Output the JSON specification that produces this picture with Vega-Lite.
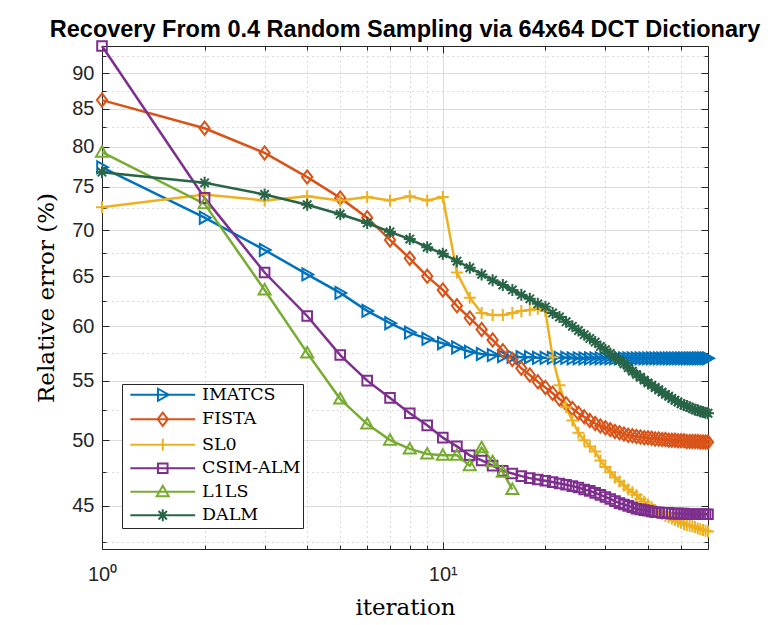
{
"$schema": "https://vega.github.io/schema/vega-lite/v6.json",
"width": 606, "height": 503,
"autosize": "none",
"padding": {"left": 102, "top": 46, "right": 74, "bottom": 76},
"background": "white",
"config": {"view": {"stroke": null},
  "legend": {"orient": "none", "legendX": 20, "legendY": 338, "fillColor": "white", "strokeColor": "#262626", "padding": 2,
    "labelFont": "DejaVu Serif", "labelFontSize": 17.5, "labelColor": "#000000", "labelLimit": 300,
    "symbolSize": 144, "symbolStrokeWidth": 2, "symbolOpacity": 1, "symbolOffset": 30, "labelOffset": 30.5, "rowPadding": 3.5}},
"title": {"text": "Recovery From 0.4 Random Sampling via 64x64 DCT Dictionary", "font": "Liberation Sans", "fontSize": 23.5, "fontWeight": "bold", "color": "#000000", "anchor": "middle", "baseline": "alphabetic", "offset": -23},
"datasets": {"d": [
{"method":"IMATCS","iteration":1,"error":77.4},{"method":"IMATCS","iteration":2,"error":71.4},{"method":"IMATCS","iteration":3,"error":67.8},{"method":"IMATCS","iteration":4,"error":65.2},{"method":"IMATCS","iteration":5,"error":63.3},{"method":"IMATCS","iteration":6,"error":61.5},{"method":"IMATCS","iteration":7,"error":60.3},{"method":"IMATCS","iteration":8,"error":59.4},{"method":"IMATCS","iteration":9,"error":58.8},{"method":"IMATCS","iteration":10,"error":58.4},
{"method":"IMATCS","iteration":11,"error":58.0},{"method":"IMATCS","iteration":12,"error":57.6},{"method":"IMATCS","iteration":13,"error":57.4},{"method":"IMATCS","iteration":14,"error":57.3},{"method":"IMATCS","iteration":15,"error":57.2},{"method":"IMATCS","iteration":16,"error":57.15},{"method":"IMATCS","iteration":17,"error":57.1},{"method":"IMATCS","iteration":18,"error":57.1},{"method":"IMATCS","iteration":19,"error":57.05},{"method":"IMATCS","iteration":20,"error":57.05},
{"method":"IMATCS","iteration":21,"error":57.05},{"method":"IMATCS","iteration":22,"error":57.05},{"method":"IMATCS","iteration":23,"error":57.05},{"method":"IMATCS","iteration":24,"error":57.0},{"method":"IMATCS","iteration":25,"error":57.0},{"method":"IMATCS","iteration":26,"error":57.0},{"method":"IMATCS","iteration":27,"error":57.0},{"method":"IMATCS","iteration":28,"error":57.0},{"method":"IMATCS","iteration":29,"error":57.0},{"method":"IMATCS","iteration":30,"error":57.0},
{"method":"IMATCS","iteration":31,"error":57.0},{"method":"IMATCS","iteration":32,"error":57.0},{"method":"IMATCS","iteration":33,"error":57.0},{"method":"IMATCS","iteration":34,"error":57.0},{"method":"IMATCS","iteration":35,"error":57.0},{"method":"IMATCS","iteration":36,"error":57.0},{"method":"IMATCS","iteration":37,"error":57.0},{"method":"IMATCS","iteration":38,"error":57.0},{"method":"IMATCS","iteration":39,"error":57.0},{"method":"IMATCS","iteration":40,"error":57.0},
{"method":"IMATCS","iteration":41,"error":57.0},{"method":"IMATCS","iteration":42,"error":57.0},{"method":"IMATCS","iteration":43,"error":57.0},{"method":"IMATCS","iteration":44,"error":57.0},{"method":"IMATCS","iteration":45,"error":57.0},{"method":"IMATCS","iteration":46,"error":57.0},{"method":"IMATCS","iteration":47,"error":57.0},{"method":"IMATCS","iteration":48,"error":57.0},{"method":"IMATCS","iteration":49,"error":57.0},{"method":"IMATCS","iteration":50,"error":57.0},
{"method":"IMATCS","iteration":51,"error":57.0},{"method":"IMATCS","iteration":52,"error":57.0},{"method":"IMATCS","iteration":53,"error":57.0},{"method":"IMATCS","iteration":54,"error":57.0},{"method":"IMATCS","iteration":55,"error":57.0},{"method":"IMATCS","iteration":56,"error":57.0},{"method":"IMATCS","iteration":57,"error":57.0},{"method":"IMATCS","iteration":58,"error":57.0},{"method":"IMATCS","iteration":59,"error":57.0},{"method":"IMATCS","iteration":60,"error":57.0},
{"method":"FISTA","iteration":1,"error":86.2},{"method":"FISTA","iteration":2,"error":82.4},{"method":"FISTA","iteration":3,"error":79.2},{"method":"FISTA","iteration":4,"error":76.2},{"method":"FISTA","iteration":5,"error":73.7},{"method":"FISTA","iteration":6,"error":71.4},{"method":"FISTA","iteration":7,"error":68.9},{"method":"FISTA","iteration":8,"error":66.9},{"method":"FISTA","iteration":9,"error":65.0},{"method":"FISTA","iteration":10,"error":63.6},
{"method":"FISTA","iteration":11,"error":62.0},{"method":"FISTA","iteration":12,"error":60.8},{"method":"FISTA","iteration":13,"error":59.7},{"method":"FISTA","iteration":14,"error":58.7},{"method":"FISTA","iteration":15,"error":57.7},{"method":"FISTA","iteration":16,"error":56.9},{"method":"FISTA","iteration":17,"error":56.1},{"method":"FISTA","iteration":18,"error":55.5},{"method":"FISTA","iteration":19,"error":54.9},{"method":"FISTA","iteration":20,"error":54.4},
{"method":"FISTA","iteration":21,"error":53.9},{"method":"FISTA","iteration":22,"error":53.4},{"method":"FISTA","iteration":23,"error":53.0},{"method":"FISTA","iteration":24,"error":52.6},{"method":"FISTA","iteration":25,"error":52.2},{"method":"FISTA","iteration":26,"error":51.9},{"method":"FISTA","iteration":27,"error":51.6},{"method":"FISTA","iteration":28,"error":51.35},{"method":"FISTA","iteration":29,"error":51.15},{"method":"FISTA","iteration":30,"error":51.0},
{"method":"FISTA","iteration":31,"error":50.85},{"method":"FISTA","iteration":32,"error":50.7},{"method":"FISTA","iteration":33,"error":50.6},{"method":"FISTA","iteration":34,"error":50.5},{"method":"FISTA","iteration":35,"error":50.4},{"method":"FISTA","iteration":36,"error":50.35},{"method":"FISTA","iteration":37,"error":50.3},{"method":"FISTA","iteration":38,"error":50.25},{"method":"FISTA","iteration":39,"error":50.2},{"method":"FISTA","iteration":40,"error":50.2},
{"method":"FISTA","iteration":41,"error":50.15},{"method":"FISTA","iteration":42,"error":50.1},{"method":"FISTA","iteration":43,"error":50.1},{"method":"FISTA","iteration":44,"error":50.05},{"method":"FISTA","iteration":45,"error":50.05},{"method":"FISTA","iteration":46,"error":50.0},{"method":"FISTA","iteration":47,"error":50.0},{"method":"FISTA","iteration":48,"error":50.0},{"method":"FISTA","iteration":49,"error":49.95},{"method":"FISTA","iteration":50,"error":49.95},
{"method":"FISTA","iteration":51,"error":49.95},{"method":"FISTA","iteration":52,"error":49.9},{"method":"FISTA","iteration":53,"error":49.9},{"method":"FISTA","iteration":54,"error":49.9},{"method":"FISTA","iteration":55,"error":49.9},{"method":"FISTA","iteration":56,"error":49.9},{"method":"FISTA","iteration":57,"error":49.85},{"method":"FISTA","iteration":58,"error":49.85},{"method":"FISTA","iteration":59,"error":49.85},{"method":"FISTA","iteration":60,"error":49.85},
{"method":"SL0","iteration":1,"error":72.6},{"method":"SL0","iteration":2,"error":74.1},{"method":"SL0","iteration":3,"error":73.4},{"method":"SL0","iteration":4,"error":73.9},{"method":"SL0","iteration":5,"error":73.4},{"method":"SL0","iteration":6,"error":73.8},{"method":"SL0","iteration":7,"error":73.4},{"method":"SL0","iteration":8,"error":73.9},{"method":"SL0","iteration":9,"error":73.4},{"method":"SL0","iteration":10,"error":73.8},
{"method":"SL0","iteration":11,"error":65.4},{"method":"SL0","iteration":12,"error":62.8},{"method":"SL0","iteration":13,"error":61.3},{"method":"SL0","iteration":14,"error":61.1},{"method":"SL0","iteration":15,"error":61.1},{"method":"SL0","iteration":16,"error":61.3},{"method":"SL0","iteration":17,"error":61.5},{"method":"SL0","iteration":18,"error":61.6},{"method":"SL0","iteration":19,"error":61.7},{"method":"SL0","iteration":20,"error":61.5},
{"method":"SL0","iteration":21,"error":57.1},{"method":"SL0","iteration":22,"error":54.6},{"method":"SL0","iteration":23,"error":52.7},{"method":"SL0","iteration":24,"error":51.6},{"method":"SL0","iteration":25,"error":50.6},{"method":"SL0","iteration":26,"error":50.0},{"method":"SL0","iteration":27,"error":49.5},{"method":"SL0","iteration":28,"error":49.1},{"method":"SL0","iteration":29,"error":48.4},{"method":"SL0","iteration":30,"error":47.9},
{"method":"SL0","iteration":31,"error":47.5},{"method":"SL0","iteration":32,"error":47.1},{"method":"SL0","iteration":33,"error":46.8},{"method":"SL0","iteration":34,"error":46.5},{"method":"SL0","iteration":35,"error":46.2},{"method":"SL0","iteration":36,"error":46.0},{"method":"SL0","iteration":37,"error":45.8},{"method":"SL0","iteration":38,"error":45.5},{"method":"SL0","iteration":39,"error":45.3},{"method":"SL0","iteration":40,"error":45.1},
{"method":"SL0","iteration":41,"error":44.9},{"method":"SL0","iteration":42,"error":44.7},{"method":"SL0","iteration":43,"error":44.5},{"method":"SL0","iteration":44,"error":44.4},{"method":"SL0","iteration":45,"error":44.3},{"method":"SL0","iteration":46,"error":44.2},{"method":"SL0","iteration":47,"error":44.1},{"method":"SL0","iteration":48,"error":44.0},{"method":"SL0","iteration":49,"error":43.9},{"method":"SL0","iteration":50,"error":43.8},
{"method":"SL0","iteration":51,"error":43.7},{"method":"SL0","iteration":52,"error":43.65},{"method":"SL0","iteration":53,"error":43.6},{"method":"SL0","iteration":54,"error":43.55},{"method":"SL0","iteration":55,"error":43.5},{"method":"SL0","iteration":56,"error":43.4},{"method":"SL0","iteration":57,"error":43.35},{"method":"SL0","iteration":58,"error":43.3},{"method":"SL0","iteration":59,"error":43.25},{"method":"SL0","iteration":60,"error":43.2},
{"method":"CSIM-ALM","iteration":1,"error":94.0},{"method":"CSIM-ALM","iteration":2,"error":73.7},{"method":"CSIM-ALM","iteration":3,"error":65.4},{"method":"CSIM-ALM","iteration":4,"error":61.0},{"method":"CSIM-ALM","iteration":5,"error":57.3},{"method":"CSIM-ALM","iteration":6,"error":55.0},{"method":"CSIM-ALM","iteration":7,"error":53.5},{"method":"CSIM-ALM","iteration":8,"error":52.2},{"method":"CSIM-ALM","iteration":9,"error":51.2},{"method":"CSIM-ALM","iteration":10,"error":50.2},
{"method":"CSIM-ALM","iteration":11,"error":49.5},{"method":"CSIM-ALM","iteration":12,"error":48.8},{"method":"CSIM-ALM","iteration":13,"error":48.4},{"method":"CSIM-ALM","iteration":14,"error":48.0},{"method":"CSIM-ALM","iteration":15,"error":47.6},{"method":"CSIM-ALM","iteration":16,"error":47.4},{"method":"CSIM-ALM","iteration":17,"error":47.2},{"method":"CSIM-ALM","iteration":18,"error":47.05},{"method":"CSIM-ALM","iteration":19,"error":46.95},{"method":"CSIM-ALM","iteration":20,"error":46.85},
{"method":"CSIM-ALM","iteration":21,"error":46.75},{"method":"CSIM-ALM","iteration":22,"error":46.65},{"method":"CSIM-ALM","iteration":23,"error":46.55},{"method":"CSIM-ALM","iteration":24,"error":46.45},{"method":"CSIM-ALM","iteration":25,"error":46.35},{"method":"CSIM-ALM","iteration":26,"error":46.2},{"method":"CSIM-ALM","iteration":27,"error":46.1},{"method":"CSIM-ALM","iteration":28,"error":45.95},{"method":"CSIM-ALM","iteration":29,"error":45.8},{"method":"CSIM-ALM","iteration":30,"error":45.65},
{"method":"CSIM-ALM","iteration":31,"error":45.5},{"method":"CSIM-ALM","iteration":32,"error":45.35},{"method":"CSIM-ALM","iteration":33,"error":45.2},{"method":"CSIM-ALM","iteration":34,"error":45.1},{"method":"CSIM-ALM","iteration":35,"error":45.0},{"method":"CSIM-ALM","iteration":36,"error":44.9},{"method":"CSIM-ALM","iteration":37,"error":44.8},{"method":"CSIM-ALM","iteration":38,"error":44.75},{"method":"CSIM-ALM","iteration":39,"error":44.7},{"method":"CSIM-ALM","iteration":40,"error":44.65},
{"method":"CSIM-ALM","iteration":41,"error":44.6},{"method":"CSIM-ALM","iteration":42,"error":44.55},{"method":"CSIM-ALM","iteration":43,"error":44.55},{"method":"CSIM-ALM","iteration":44,"error":44.5},{"method":"CSIM-ALM","iteration":45,"error":44.5},{"method":"CSIM-ALM","iteration":46,"error":44.5},{"method":"CSIM-ALM","iteration":47,"error":44.45},{"method":"CSIM-ALM","iteration":48,"error":44.45},{"method":"CSIM-ALM","iteration":49,"error":44.45},{"method":"CSIM-ALM","iteration":50,"error":44.45},
{"method":"CSIM-ALM","iteration":51,"error":44.45},{"method":"CSIM-ALM","iteration":52,"error":44.4},{"method":"CSIM-ALM","iteration":53,"error":44.4},{"method":"CSIM-ALM","iteration":54,"error":44.4},{"method":"CSIM-ALM","iteration":55,"error":44.4},{"method":"CSIM-ALM","iteration":56,"error":44.4},{"method":"CSIM-ALM","iteration":57,"error":44.4},{"method":"CSIM-ALM","iteration":58,"error":44.4},{"method":"CSIM-ALM","iteration":59,"error":44.4},{"method":"CSIM-ALM","iteration":60,"error":44.4},
{"method":"L1LS","iteration":1,"error":79.3},{"method":"L1LS","iteration":2,"error":73.0},{"method":"L1LS","iteration":3,"error":63.6},{"method":"L1LS","iteration":4,"error":57.5},{"method":"L1LS","iteration":5,"error":53.4},{"method":"L1LS","iteration":6,"error":51.3},{"method":"L1LS","iteration":7,"error":50.0},{"method":"L1LS","iteration":8,"error":49.3},{"method":"L1LS","iteration":9,"error":48.9},{"method":"L1LS","iteration":10,"error":48.8},
{"method":"L1LS","iteration":11,"error":48.8},{"method":"L1LS","iteration":12,"error":48.0},{"method":"L1LS","iteration":13,"error":49.4},{"method":"L1LS","iteration":14,"error":48.3},{"method":"L1LS","iteration":15,"error":47.5},{"method":"L1LS","iteration":16,"error":46.2},
{"method":"DALM","iteration":1,"error":76.8},{"method":"DALM","iteration":2,"error":75.5},{"method":"DALM","iteration":3,"error":74.1},{"method":"DALM","iteration":4,"error":72.9},{"method":"DALM","iteration":5,"error":71.8},{"method":"DALM","iteration":6,"error":70.8},{"method":"DALM","iteration":7,"error":69.8},{"method":"DALM","iteration":8,"error":69.0},{"method":"DALM","iteration":9,"error":68.1},{"method":"DALM","iteration":10,"error":67.4},
{"method":"DALM","iteration":11,"error":66.6},{"method":"DALM","iteration":12,"error":65.9},{"method":"DALM","iteration":13,"error":65.2},{"method":"DALM","iteration":14,"error":64.6},{"method":"DALM","iteration":15,"error":64.1},{"method":"DALM","iteration":16,"error":63.6},{"method":"DALM","iteration":17,"error":63.1},{"method":"DALM","iteration":18,"error":62.7},{"method":"DALM","iteration":19,"error":62.2},{"method":"DALM","iteration":20,"error":61.9},
{"method":"DALM","iteration":21,"error":61.3},{"method":"DALM","iteration":22,"error":60.9},{"method":"DALM","iteration":23,"error":60.45},{"method":"DALM","iteration":24,"error":60.0},{"method":"DALM","iteration":25,"error":59.6},{"method":"DALM","iteration":26,"error":59.2},{"method":"DALM","iteration":27,"error":58.85},{"method":"DALM","iteration":28,"error":58.5},{"method":"DALM","iteration":29,"error":58.1},{"method":"DALM","iteration":30,"error":57.8},
{"method":"DALM","iteration":31,"error":57.45},{"method":"DALM","iteration":32,"error":57.1},{"method":"DALM","iteration":33,"error":56.8},{"method":"DALM","iteration":34,"error":56.5},{"method":"DALM","iteration":35,"error":56.15},{"method":"DALM","iteration":36,"error":55.85},{"method":"DALM","iteration":37,"error":55.55},{"method":"DALM","iteration":38,"error":55.3},{"method":"DALM","iteration":39,"error":55.05},{"method":"DALM","iteration":40,"error":54.8},
{"method":"DALM","iteration":41,"error":54.6},{"method":"DALM","iteration":42,"error":54.4},{"method":"DALM","iteration":43,"error":54.2},{"method":"DALM","iteration":44,"error":54.0},{"method":"DALM","iteration":45,"error":53.8},{"method":"DALM","iteration":46,"error":53.65},{"method":"DALM","iteration":47,"error":53.45},{"method":"DALM","iteration":48,"error":53.3},{"method":"DALM","iteration":49,"error":53.15},{"method":"DALM","iteration":50,"error":53.0},
{"method":"DALM","iteration":51,"error":52.9},{"method":"DALM","iteration":52,"error":52.8},{"method":"DALM","iteration":53,"error":52.7},{"method":"DALM","iteration":54,"error":52.6},{"method":"DALM","iteration":55,"error":52.5},{"method":"DALM","iteration":56,"error":52.45},{"method":"DALM","iteration":57,"error":52.35},{"method":"DALM","iteration":58,"error":52.3},{"method":"DALM","iteration":59,"error":52.25},{"method":"DALM","iteration":60,"error":52.2}
]},
"data": {"name": "d"},
"layer": [
  {"mark": {"type": "line", "strokeWidth": 2.5},
   "encoding": {
     "x": {"field": "iteration", "type": "quantitative",
       "scale": {"type": "log", "domain": [1, 60], "nice": false},
       "axis": {"orient": "bottom", "values": [1, 10],
         "title": "iteration", "titleFont": "DejaVu Serif", "titleFontSize": 23, "titleFontWeight": "normal", "titleColor": "#000000", "titleBaseline": "alphabetic", "titleY": 65,
         "labelExpr": "datum.value == 1 ? '10⁰' : '10¹'",
         "labelFont": "Liberation Sans", "labelFontSize": 20, "labelColor": "#262626", "labelBaseline": "alphabetic", "labelPadding": 38, "labelOverlap": false, "labelFlush": false,
         "domain": true, "domainColor": "#262626", "domainWidth": 1,
         "ticks": true, "tickColor": "#262626", "tickWidth": 1, "tickSize": -7,
         "grid": true, "gridColor": "#dcdcdc", "gridWidth": 1}},
     "y": {"field": "error", "type": "quantitative",
       "scale": {"type": "log", "domain": [42, 94], "nice": false, "zero": false},
       "axis": {"orient": "left", "values": [45, 50, 55, 60, 65, 70, 75, 80, 85, 90],
         "title": "Relative error (%)", "titleFont": "DejaVu Serif", "titleFontSize": 23, "titleFontWeight": "normal", "titleColor": "#000000", "titleBaseline": "alphabetic", "titleAngle": 270, "titleX": -49, "titleY": 251.5, "titleAlign": "center",
         "format": "d",
         "labelFont": "Liberation Sans", "labelFontSize": 20, "labelColor": "#262626", "labelPadding": 15, "labelOverlap": false, "labelFlush": false,
         "domain": true, "domainColor": "#262626", "domainWidth": 1,
         "ticks": true, "tickColor": "#262626", "tickWidth": 1, "tickSize": -7,
         "grid": true, "gridColor": "#dcdcdc", "gridWidth": 1}},
     "color": {"field": "method", "type": "nominal",
       "scale": {"domain": ["IMATCS","FISTA","SL0","CSIM-ALM","L1LS","DALM"], "range": ["#0072BD","#D95319","#EDB120","#7E2F8E","#77AC30","#286446"]},
       "legend": null}
   }},
  {"mark": {"type": "point", "filled": false, "strokeWidth": 2, "size": 144, "opacity": 1},
   "encoding": {
     "x": {"field": "iteration", "type": "quantitative",
       "scale": {"type": "log", "domain": [1, 60], "nice": false},
       "axis": {"orient": "bottom", "values": [2,3,4,5,6,7,8,9,20,30,40,50,60], "title": null, "labels": false,
         "domain": false, "ticks": true, "tickColor": "#262626", "tickWidth": 1, "tickSize": -4,
         "grid": true, "gridColor": "#b4b4b4", "gridDash": [1, 4], "gridWidth": 1}},
     "y": {"field": "error", "type": "quantitative",
       "scale": {"type": "log", "domain": [42, 94], "nice": false, "zero": false},
       "axis": {"orient": "left", "values": [42.5,47.5,52.5,57.5,62.5,67.5,72.5,77.5,82.5,87.5,92.5], "title": null, "labels": false,
         "domain": false, "ticks": true, "tickColor": "#262626", "tickWidth": 1, "tickSize": -4,
         "grid": true, "gridColor": "#b4b4b4", "gridDash": [1, 4], "gridWidth": 1}},
     "color": {"field": "method", "type": "nominal",
       "scale": {"domain": ["IMATCS","FISTA","SL0","CSIM-ALM","L1LS","DALM"], "range": ["#0072BD","#D95319","#EDB120","#7E2F8E","#77AC30","#286446"]},
       "legend": null},
     "shape": {"field": "method", "type": "nominal",
       "scale": {"domain": ["IMATCS","FISTA","SL0","CSIM-ALM","L1LS","DALM"],
         "range": ["M-0.8,-1L1,0L-0.8,1Z", "M0,-1.1L0.85,0L0,1.1L-0.85,0Z", "M-1,0L1,0M0,-1L0,1", "M-0.8,-0.8L0.8,-0.8L0.8,0.8L-0.8,0.8Z", "M0,-1L1,0.75L-1,0.75Z", "M-1,0L1,0M0,-1L0,1M-0.7,-0.7L0.7,0.7M-0.7,0.7L0.7,-0.7"]},
       "legend": null}
   }},
  {"mark": {"type": "point", "filled": false, "strokeWidth": 2, "size": 144, "opacity": 0},
   "encoding": {
     "x": {"field": "iteration", "type": "quantitative",
       "scale": {"type": "log", "domain": [1, 60], "nice": false},
       "axis": {"orient": "top", "values": [1, 10], "title": null, "labels": false, "grid": false,
         "domain": true, "domainColor": "#262626", "domainWidth": 1, "ticks": true, "tickColor": "#262626", "tickWidth": 1, "tickSize": -7}},
     "y": {"field": "error", "type": "quantitative",
       "scale": {"type": "log", "domain": [42, 94], "nice": false, "zero": false},
       "axis": {"orient": "right", "values": [45, 50, 55, 60, 65, 70, 75, 80, 85, 90], "title": null, "labels": false, "grid": false,
         "domain": true, "domainColor": "#262626", "domainWidth": 1, "ticks": true, "tickColor": "#262626", "tickWidth": 1, "tickSize": -7}},
     "color": {"field": "method", "type": "nominal",
       "scale": {"domain": ["IMATCS","FISTA","SL0","CSIM-ALM","L1LS","DALM"], "range": ["#0072BD","#D95319","#EDB120","#7E2F8E","#77AC30","#286446"]},
       "legend": {"title": null}},
     "shape": {"field": "method", "type": "nominal",
       "scale": {"domain": ["IMATCS","FISTA","SL0","CSIM-ALM","L1LS","DALM"],
         "range": ["M-5.4,0L5.4,0M-0.8,-1L1,0L-0.8,1Z", "M-5.4,0L5.4,0M0,-1.1L0.85,0L0,1.1L-0.85,0Z", "M-5.4,0L5.4,0M0,-1L0,1", "M-5.4,0L5.4,0M-0.8,-0.8L0.8,-0.8L0.8,0.8L-0.8,0.8Z", "M-5.4,0L5.4,0M0,-1L1,0.75L-1,0.75Z", "M-5.4,0L5.4,0M0,-1L0,1M-0.7,-0.7L0.7,0.7M-0.7,0.7L0.7,-0.7"]},
       "legend": {"title": null}}
   }},
  {"mark": {"type": "point", "opacity": 0},
   "encoding": {
     "x": {"field": "iteration", "type": "quantitative",
       "scale": {"type": "log", "domain": [1, 60], "nice": false},
       "axis": {"orient": "top", "values": [2,3,4,5,6,7,8,9,20,30,40,50,60], "title": null, "labels": false, "grid": false,
         "domain": false, "ticks": true, "tickColor": "#262626", "tickWidth": 1, "tickSize": -4}},
     "y": {"field": "error", "type": "quantitative",
       "scale": {"type": "log", "domain": [42, 94], "nice": false, "zero": false},
       "axis": {"orient": "right", "values": [42.5,47.5,52.5,57.5,62.5,67.5,72.5,77.5,82.5,87.5,92.5], "title": null, "labels": false, "grid": false,
         "domain": false, "ticks": true, "tickColor": "#262626", "tickWidth": 1, "tickSize": -4}}
   }}
],
"resolve": {"axis": {"x": "independent", "y": "independent"}, "scale": {"color": "independent", "shape": "independent"}, "legend": {"color": "independent", "shape": "independent"}}
}
